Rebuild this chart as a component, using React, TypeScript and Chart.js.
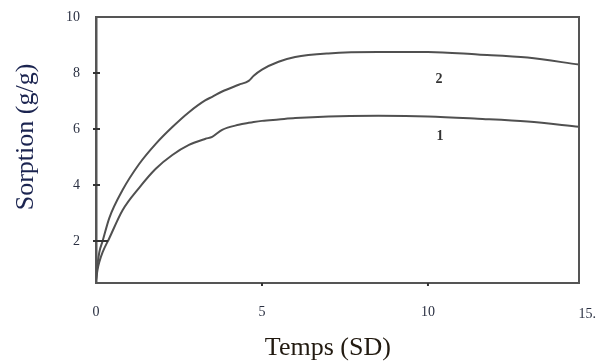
import React, { useEffect, useRef } from "react";
import { Chart, registerables } from "chart.js";

Chart.register(...registerables);

// Time (SD) sampling points shared by both curves
const timeValues = [0, 0.05, 0.1, 0.2, 0.4, 0.8, 1.3, 1.8, 2.3, 2.8, 3.3, 3.5, 3.8, 4.3, 4.6, 4.75, 5.0, 5.5, 6.0, 7.0, 8.5, 10.0, 11.5, 13.0, 14.55];
// Curve 2 (upper)
const sorptionCurve2 = [0.6, 1.2, 1.6, 2.0, 2.82, 3.82, 4.75, 5.47, 6.07, 6.6, 7.03, 7.15, 7.34, 7.58, 7.72, 7.9, 8.12, 8.4, 8.57, 8.7, 8.75, 8.75, 8.66, 8.55, 8.3];
// Curve 1 (lower)
const sorptionCurve1 = [0.6, 1.0, 1.25, 1.6, 2.1, 3.1, 3.9, 4.58, 5.07, 5.43, 5.65, 5.72, 5.97, 6.15, 6.22, 6.25, 6.29, 6.34, 6.39, 6.45, 6.47, 6.45, 6.37, 6.27, 6.08];

const yTickValues = [2, 4, 6, 8, 10];
const xTickValues = [0, 5, 10];
const xTickMarks = [5, 10];
const extraXLabel = "15.";
const curveLabels = [
  { text: "2", x: 10.33, y: 7.78 },
  { text: "1", x: 10.36, y: 5.73 },
];
const xTitle = "Temps (SD)";
const yTitle = "Sorption (g/g)";

const SERIF = "'Liberation Serif', 'Times New Roman', serif";
const TICK_COLOR = "#2a3042";

export default function App() {
  const ref = useRef<HTMLCanvasElement | null>(null);

  useEffect(() => {
    if (!ref.current) return;
    const decor = {
      id: "decor",
      afterDraw(chart: any) {
        const { ctx, chartArea: a, scales } = chart;
        const x = scales.x;
        const y = scales.y;
        ctx.save();
        // frame top & right
        ctx.strokeStyle = "#555";
        ctx.lineWidth = 2;
        ctx.beginPath();
        ctx.moveTo(a.left, a.top);
        ctx.lineTo(a.right, a.top);
        ctx.lineTo(a.right, a.bottom);
        ctx.stroke();
        // y tick marks crossing the axis
        ctx.strokeStyle = "#333";
        ctx.lineWidth = 2;
        yTickValues.forEach((v) => {
          if (v >= 10) return;
          const py = Math.round(y.getPixelForValue(v));
          ctx.beginPath();
          ctx.moveTo(a.left - 3, py);
          ctx.lineTo(a.left + (v === 2 ? 12 : 4), py);
          ctx.stroke();
        });
        // x tick marks
        xTickMarks.forEach((v) => {
          const px = x.getPixelForValue(v);
          ctx.beginPath();
          ctx.moveTo(px, a.bottom);
          ctx.lineTo(px, a.bottom + 3);
          ctx.stroke();
        });
        // extra x label beyond the frame
        ctx.fillStyle = TICK_COLOR;
        ctx.font = `14px ${SERIF}`;
        ctx.textAlign = "center";
        ctx.textBaseline = "middle";
        ctx.fillText(extraXLabel, x.getPixelForValue(14.8), a.bottom + 31);
        // curve labels
        ctx.font = `bold 14px ${SERIF}`;
        ctx.fillStyle = "#333";
        curveLabels.forEach((l) => {
          ctx.fillText(l.text, x.getPixelForValue(l.x), y.getPixelForValue(l.y));
        });
        // axis titles
        ctx.font = `26px ${SERIF}`;
        ctx.fillStyle = "#221a10";
        ctx.fillText(xTitle, a.left + (a.right - a.left) * 0.48, a.bottom + 65);
        ctx.save();
        ctx.translate(26, a.top + 120);
        ctx.rotate(-Math.PI / 2);
        ctx.fillStyle = "#1b2450";
        ctx.fillText(yTitle, 0, 0);
        ctx.restore();
        ctx.restore();
      },
    };

    const chart = new Chart(ref.current, {
      type: "line",
      data: {
        datasets: [
          {
            label: "2",
            data: timeValues.map((t, i) => ({ x: t, y: sorptionCurve2[i] })),
            borderColor: "#505050",
            borderWidth: 2,
            pointRadius: 0,
            cubicInterpolationMode: "monotone",
            fill: false,
          },
          {
            label: "1",
            data: timeValues.map((t, i) => ({ x: t, y: sorptionCurve1[i] })),
            borderColor: "#505050",
            borderWidth: 2,
            pointRadius: 0,
            cubicInterpolationMode: "monotone",
            fill: false,
          },
        ],
      },
      options: {
        responsive: false,
        animation: false,
        layout: { padding: { top: 17, right: 21, left: 0, bottom: 0 } },
        plugins: { legend: { display: false }, tooltip: { enabled: false } },
        scales: {
          x: {
            type: "linear",
            min: 0,
            max: 14.55,
            grid: { display: false, drawTicks: false },
            border: { display: true, color: "#555", width: 2 },
            afterBuildTicks: (s: any) => {
              s.ticks = xTickValues.map((v) => ({ value: v }));
            },
            ticks: {
              padding: 21,
              maxRotation: 0,
              autoSkip: false,
              color: TICK_COLOR,
              font: { family: SERIF, size: 14 },
            },
            afterFit: (s: any) => {
              s.height = 79;
            },
          },
          y: {
            type: "linear",
            min: 0.5,
            max: 10,
            grid: { display: false, drawTicks: true, tickLength: 16 },
            border: { display: true, color: "#555", width: 2.5 },
            afterBuildTicks: (s: any) => {
              s.ticks = yTickValues.map((v) => ({ value: v }));
            },
            ticks: {
              padding: 0,
              color: TICK_COLOR,
              font: { family: SERIF, size: 14 },
            },
            afterFit: (s: any) => {
              s.width = 96;
            },
          },
        },
      },
      plugins: [decor],
    });
    return () => chart.destroy();
  }, []);

  return (
    <div style={{ position: "absolute", left: 0, top: 0, width: 600, height: 362, background: "#fff" }}>
      <canvas ref={ref} width={600} height={362} />
    </div>
  );
}
